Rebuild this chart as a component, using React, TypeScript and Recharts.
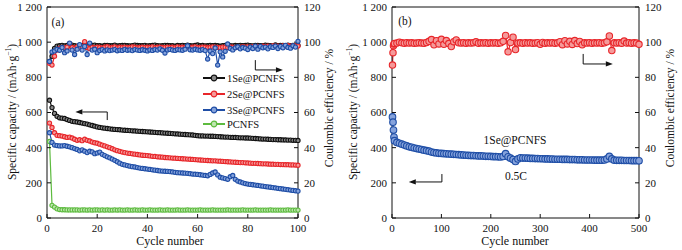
import React from "react";
import { ComposedChart, Line, XAxis, YAxis, ReferenceLine } from "recharts";

// ---- panel (a): 100 cycles, four electrodes ----
const cyclesA = Array.from({ length: 100 }, (_, i) => i + 1);

const cap1Se = [
  670, 628, 595, 578, 570, 568, 566, 560, 555, 550, 548, 546, 543, 540, 537, 534, 530, 526, 522, 518,
  515, 513, 511, 509, 507, 505, 504, 503, 502, 500, 499, 498, 497, 496, 495, 494, 493, 492, 491, 490,
  489, 488, 487, 486, 485, 484, 483, 482, 481, 480, 479, 478, 477, 476, 475, 474, 473, 472, 470, 468,
  467, 467, 466, 466, 465, 465, 464, 463, 462, 461, 460, 460, 459, 458, 458, 457, 456, 456, 455, 455,
  454, 453, 452, 451, 450, 449, 449, 448, 447, 446, 446, 445, 445, 444, 444, 443, 443, 442, 442, 441,
];
const cap2Se = [
  540, 515, 485, 470, 468, 466, 462, 458, 460, 455, 448, 442, 445, 440, 448, 442, 438, 432, 428, 425,
  420, 415, 410, 405, 400, 394, 388, 383, 379, 375, 372, 369, 367, 365, 363, 361, 359, 357, 356, 355,
  353, 351, 350, 348, 347, 346, 344, 343, 342, 341, 340, 339, 338, 337, 336, 335, 334, 333, 332, 331,
  330, 329, 328, 327, 326, 325, 325, 324, 323, 322, 321, 320, 319, 318, 317, 316, 315, 315, 314, 313,
  312, 311, 311, 310, 309, 308, 308, 307, 306, 306, 305, 305, 304, 304, 303, 303, 302, 302, 301, 300,
];
const cap3Se = [
  485, 430, 415, 412, 410, 410, 412, 408, 405, 400, 395, 390, 382, 388, 380, 372, 380, 376, 366, 370,
  375, 362, 355, 348, 342, 335, 328, 320, 312, 305, 302, 298, 295, 292, 290, 287, 284, 282, 280, 278,
  276, 274, 272, 270, 268, 267, 266, 265, 264, 262, 260, 258, 257, 256, 255, 254, 252, 250, 249, 248,
  246, 244, 242, 240, 248, 256, 262, 245, 232, 228, 224, 220, 235, 242, 220, 210, 205, 200, 196, 193,
  191, 189, 187, 185, 183, 181, 179, 177, 175, 173, 171, 169, 167, 165, 163, 161, 159, 157, 155, 153,
];
const capPCNFS = [
  435, 72, 62, 52, 48, 47, 47, 46, 46, 46, 46, 46, 45, 46, 46, 45, 46, 45, 46, 46,
  45, 46, 45, 46, 45, 45, 46, 45, 46, 45, 45, 46, 45, 45, 46, 45, 45, 46, 45, 45,
  46, 45, 45, 45, 46, 45, 45, 46, 45, 45, 45, 46, 45, 45, 45, 46, 45, 45, 45, 45,
  46, 45, 45, 45, 45, 46, 45, 45, 45, 45, 45, 46, 45, 45, 45, 45, 45, 46, 45, 45,
  45, 45, 46, 45, 45, 45, 45, 45, 46, 45, 45, 45, 45, 45, 45, 46, 45, 45, 45, 45,
];
const ce1Se = [
  89, 92, 96.5, 97.8, 98, 98.2, 97.9, 98.1, 98, 98.3, 98, 97.8, 98.1, 98, 98.2, 98, 97.9, 98.1, 98.3, 98,
  98, 97.8, 98.1, 98.2, 98, 98, 98.3, 97.9, 98, 98.1, 98.2, 98, 97.9, 98, 98.3, 98.1, 98, 98, 98.2, 97.9,
  98, 98.1, 98.3, 98, 97.9, 98, 98.2, 98.1, 98, 98, 97.8, 98.1, 98, 98.2, 98, 98.3, 98, 97.9, 98.1, 98.4,
  98, 98.1, 97.9, 98, 98.2, 98, 98.1, 98, 97.8, 98, 98.1, 98.2, 98, 97.9, 98.1, 98, 98.2, 98, 98.1, 98.3,
  98, 97.9, 98.1, 98.2, 98, 98, 98.3, 98.1, 98, 97.9, 98.4, 98, 98.1, 98.2, 98, 98.3, 98, 98.1, 98, 98.2,
];
const ce2Se = [
  88, 87, 92, 95.5, 96.5, 97, 96.8, 97.2, 99.2, 97, 96.5, 97.3, 96.8, 97.5, 100.3, 97, 96.4, 97.1, 96.8, 97.2,
  97, 96.6, 97.1, 97.4, 96.9, 97, 97.3, 96.8, 97.1, 97, 97.2, 96.9, 97, 97.3, 97.1, 96.8, 97, 97.2, 96.9, 97.1,
  97, 97.3, 96.8, 97.1, 97.2, 97, 96.9, 97.2, 97, 97.1, 96.8, 97.3, 97, 97.1, 96.9, 97.2, 97, 97.1, 97.3, 96.9,
  97, 97.2, 97.1, 96.8, 97, 97.3, 97.1, 97, 96.9, 97.2, 97.1, 97, 97.3, 97.1, 96.9, 97.2, 97, 97.4, 97.1, 97.3,
  97.2, 97.5, 97.3, 97.6, 97.4, 97.7, 97.5, 97.8, 97.6, 97.9, 97.7, 97.8, 97.6, 97.9, 97.8, 98, 97.7, 98, 97.9, 97.8,
];
const ce3Se = [
  89, 94.4, 95, 96, 95.4, 97, 94, 95, 99.5, 95.5, 93, 96, 98.6, 95.5, 97.6, 93, 99.5, 95.5, 96, 94,
  95.3, 95.8, 95, 95.6, 95.2, 95.5, 95.8, 95.1, 95.5, 95.3, 95.9, 95.4, 95.6, 95.2, 95.8, 95.5, 95.3, 95.7, 95.4, 95,
  95.6, 95.3, 95.8, 95.5, 96.2, 95.4, 93.8, 95.6, 95.9, 95.5, 95.3, 95.8, 95.6, 95.4, 96, 98, 95.7, 95.5, 96, 95.6,
  95.4, 95.8, 95.2, 90.4, 95, 93.5, 96.7, 87, 94.5, 91.6, 94.8, 99, 96.4, 95.6, 96.8, 97.4, 96.2, 97, 96.6, 95.8,
  97.2, 96.4, 97.8, 96, 97.6, 96.8, 97.2, 96.2, 97.4, 97, 97.8, 96.4, 97.6, 96.8, 98.2, 97, 96.6, 98, 97.2, 100.5,
];

// ---- panel (b): 1Se@PCNFS, 500 cycles at 0.5C (sampled every 5 cycles) ----
const cyclesB = [1, 2, 3, 4, 5, ...Array.from({ length: 99 }, (_, i) => (i + 2) * 5)];
const capB = [
  575, 545, 500, 460, 440,
  430, 425, 420, 415, 410, 405, 402, 398, 395, 392, 389, 386, 383, 380, 375, 372, 370, 368, 367,
  366, 365, 364, 363, 362, 361, 360, 359, 358, 357, 356, 355, 355, 354, 353, 353, 352, 351, 351, 350,
  349, 349, 348, 347, 350, 366, 348, 340, 332, 322, 336, 342, 341, 341, 340, 339, 339, 338, 338, 337,
  337, 336, 336, 335, 335, 334, 334, 334, 333, 333, 333, 332, 332, 332, 331, 331, 331, 330, 330, 330,
  330, 329, 329, 329, 329, 330, 336, 350, 336, 329, 328, 328, 328, 327, 327, 327, 326, 326, 326, 325,
];
const ceB = [
  87, 94, 98, 99, 99.3,
  99.5, 100, 99.6, 99.4, 99.7, 99.5, 99.6, 99.4, 99.5, 99.7, 99.5, 99.4, 99.8, 100.5, 101.5, 98.5, 100.8, 99, 101.6,
  98.8, 100.9, 99.2, 97.5, 100.3, 101.3, 99.6, 99.5, 99.7, 99.4, 99.6, 99.5, 99.7, 100.2, 99.4, 99.6, 99.5, 99.7, 99.4, 99.6,
  99.5, 99.7, 99.4, 99.6, 100.5, 103.8, 94.5, 99.8, 102.8, 95.8, 99.5, 99.6, 99.4, 99.7, 99.5, 99.6, 99.4, 99.5, 99.7, 98.8,
  99.8, 99.4, 99.6, 99.5, 99.7, 99.4, 99.6, 100.3, 98.6, 100.8, 99, 100.5, 98.7, 100.9, 99.2, 100.4, 98.5, 99.6, 99.5, 99.7,
  99.4, 99.6, 99.5, 99.7, 99.4, 99.6, 100.2, 103.5, 95.2, 99.6, 99.5, 99.7, 99.4, 100.6, 99.5, 99.7, 99.4, 99.6, 99.5, 98.8,
];

const capTicks = [0, 200, 400, 600, 800, 1000, 1200];
const ceTicks = [0, 20, 40, 60, 80, 100, 120];
const ticksA = [0, 20, 40, 60, 80, 100];
const ticksB = [0, 100, 200, 300, 400, 500];

const legendA = [
  { name: "1Se@PCNFS", stroke: "#111", fill: "#8a8a8a" },
  { name: "2Se@PCNFS", stroke: "#e8262a", fill: "#f59a9a" },
  { name: "3Se@PCNFS", stroke: "#1f4ea6", fill: "#86a3dc" },
  { name: "PCNFS", stroke: "#5dbb3f", fill: "#bfe6b0" },
];

const FONT = '"Liberation Serif", "Times New Roman", serif';
const BLACK = { stroke: "#111", fill: "#8a8a8a" };
const RED = { stroke: "#e8262a", fill: "#f59a9a" };
const BLUE = { stroke: "#1f4ea6", fill: "#86a3dc" };
const GREEN = { stroke: "#5dbb3f", fill: "#bfe6b0" };

const rowsA = cyclesA.map((c, i) => ({
  cycle: c, c1: cap1Se[i], c2: cap2Se[i], c3: cap3Se[i], cp: capPCNFS[i],
  e1: ce1Se[i], e2: ce2Se[i], e3: ce3Se[i],
}));
const rowsB = cyclesB.map((c, i) => ({ cycle: c, cap: capB[i], ce: ceB[i] }));

const fmtCap = (v: number) => (v >= 1000 ? `${Math.floor(v / 1000)} ${String(v % 1000).padStart(3, "0")}` : String(v));
const tickStyle = { fill: "#111", fontSize: 11, fontFamily: FONT };

// reference-line shape that draws a head at the second point
const arrowHead = (p: any) => {
  const { x1, y1, x2, y2 } = p;
  const a = Math.atan2(y2 - y1, x2 - x1);
  const L = 7, W = 2.6;
  const bx = x2 - L * Math.cos(a), by = y2 - L * Math.sin(a);
  const px = -Math.sin(a) * W, py = Math.cos(a) * W;
  return (
    <g>
      <line x1={x1} y1={y1} x2={bx} y2={by} stroke="#111" strokeWidth={1} />
      <polygon points={`${x2},${y2} ${bx + px},${by + py} ${bx - px},${by - py}`} fill="#111" />
    </g>
  );
};

function series(key: string, axis: string, c: { stroke: string; fill: string }, r: number) {
  return (
    <Line
      key={key}
      dataKey={key}
      yAxisId={axis}
      type="linear"
      stroke={c.stroke}
      strokeWidth={1.2}
      dot={{ r, fill: c.fill, stroke: c.stroke, strokeWidth: 1.1 }}
      activeDot={false}
      isAnimationActive={false}
    />
  );
}

function axes(ticks: number[], max: number, leftW: number) {
  return [
    <XAxis key="x" dataKey="cycle" type="number" domain={[0, max]} ticks={ticks} height={32}
      tickSize={-4} tickMargin={10} tick={tickStyle} stroke="#111" interval={0} />,
    <YAxis key="l" yAxisId="cap" domain={[0, 1200]} ticks={capTicks} width={leftW} tickFormatter={fmtCap}
      tickSize={-4} tickMargin={9} tick={tickStyle} stroke="#111" interval={0} />,
    <YAxis key="r" yAxisId="ce" orientation="right" domain={[0, 120]} ticks={ceTicks} width={43}
      tickSize={-4} tickMargin={10} tick={tickStyle} stroke="#111" interval={0} />,
    <ReferenceLine key="top" yAxisId="cap" y={1200} stroke="#111" />,
  ];
}

const abs = (x: number, y: number, extra: React.CSSProperties = {}): React.CSSProperties => ({
  position: "absolute", left: x, top: y, transform: "translate(-50%, -50%)", whiteSpace: "nowrap",
  fontSize: 11.5, color: "#111", lineHeight: 1, ...extra,
});

function CapTitle({ x }: { x: number }) {
  return (
    <div style={abs(x, 112, { transform: "translate(-50%, -50%) rotate(-90deg)" })}>
      Specific capacity / (mAh·g<sup style={{ fontSize: 7.5 }}>−1</sup>)
    </div>
  );
}
function CeTitle({ x }: { x: number }) {
  return <div style={abs(x, 108, { transform: "translate(-50%, -50%) rotate(-90deg)" })}>Coulombic efficiency / %</div>;
}

export default function App() {
  return (
    <div style={{ position: "absolute", left: 0, top: 0, width: 682, height: 250, background: "#fff", fontFamily: FONT }}>
      <div style={{ position: "absolute", left: 0, top: 0 }}>
        <ComposedChart width={341} height={250} data={rowsA} margin={{ top: 7, right: 0, bottom: 0, left: 0 }}>
          {axes(ticksA, 100, 47)}
          {series("cp", "cap", GREEN, 2.1)}
          {series("c3", "cap", BLUE, 2.1)}
          {series("c2", "cap", RED, 2.1)}
          {series("c1", "cap", BLACK, 2.1)}
          {series("e1", "ce", BLACK, 2.1)}
          {series("e2", "ce", RED, 2.1)}
          {series("e3", "ce", BLUE, 2.1)}
          <ReferenceLine yAxisId="cap" segment={[{ x: 24, y: 557 }, { x: 24, y: 603 }]} stroke="#111" />
          <ReferenceLine yAxisId="cap" segment={[{ x: 24, y: 603 }, { x: 11.3, y: 603 }]} shape={arrowHead} />
          <ReferenceLine yAxisId="cap" segment={[{ x: 83, y: 898 }, { x: 83, y: 842 }]} stroke="#111" />
          <ReferenceLine yAxisId="cap" segment={[{ x: 83, y: 842 }, { x: 94, y: 842 }]} shape={arrowHead} />
        </ComposedChart>
      </div>
      <div style={{ position: "absolute", left: 341, top: 0 }}>
        <ComposedChart width={341} height={250} data={rowsB} margin={{ top: 7, right: 0, bottom: 0, left: 0 }}>
          {axes(ticksB, 500, 51)}
          {series("cap", "cap", BLUE, 3.3)}
          {series("ce", "ce", RED, 3.2)}
          <ReferenceLine yAxisId="cap" segment={[{ x: 101, y: 250 }, { x: 101, y: 205 }]} stroke="#111" />
          <ReferenceLine yAxisId="cap" segment={[{ x: 101, y: 205 }, { x: 34, y: 205 }]} shape={arrowHead} />
          <ReferenceLine yAxisId="cap" segment={[{ x: 387, y: 933 }, { x: 387, y: 876 }]} stroke="#111" />
          <ReferenceLine yAxisId="cap" segment={[{ x: 387, y: 876 }, { x: 447, y: 876 }]} shape={arrowHead} />
        </ComposedChart>
      </div>

      <CapTitle x={12} />
      <CeTitle x={330} />
      <div style={abs(170, 241, { fontSize: 12 })}>Cycle number</div>
      <div style={abs(58, 23)}>(a)</div>

      <CapTitle x={353} />
      <CeTitle x={671} />
      <div style={abs(515, 241, { fontSize: 12 })}>Cycle number</div>
      <div style={abs(405, 22)}>(b)</div>
      <div style={abs(515, 141)}>1Se@PCNFS</div>
      <div style={abs(516, 177)}>0.5C</div>

      {legendA.map((s, i) => (
        <div key={s.name} style={{ position: "absolute", left: 203, top: [78, 94, 110, 124][i] - 7, height: 14,
          display: "flex", alignItems: "center", fontSize: 10.5, color: "#111" }}>
          <svg width={22} height={8} style={{ marginRight: 2 }}>
            <line x1={0} y1={4} x2={22} y2={4} stroke={s.stroke} strokeWidth={2} />
            <circle cx={11} cy={4} r={2.8} fill={s.fill} stroke={s.stroke} strokeWidth={1.2} />
          </svg>
          {s.name}
        </div>
      ))}
    </div>
  );
}
